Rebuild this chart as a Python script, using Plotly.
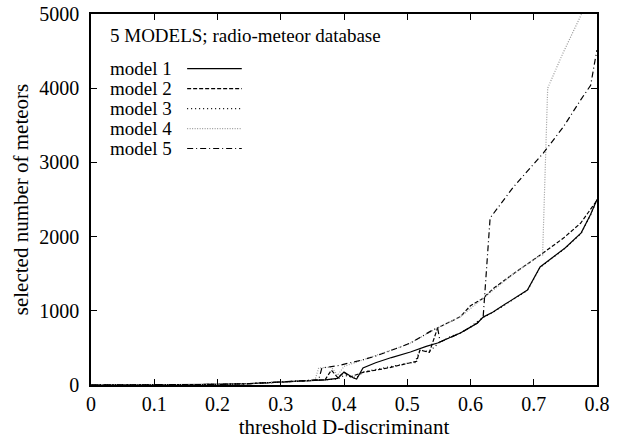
import plotly.graph_objects as go

# ---- data ----
base_x = [0.0, 0.05, 0.1, 0.15, 0.2, 0.25, 0.3, 0.33]
base_y = [0, 1, 2, 4, 8, 18, 40, 55]

m1_x = base_x + [0.35, 0.37, 0.39, 0.40, 0.415, 0.42, 0.43, 0.45, 0.475, 0.505, 0.53, 0.548, 0.565,
                 0.584, 0.60, 0.611, 0.62, 0.635, 0.655, 0.69, 0.71, 0.75, 0.775, 0.79, 0.80]
m1_y = base_y + [60, 70, 90, 175, 94, 80, 230, 300, 370, 445, 520, 566, 630,
                 700, 780, 835, 915, 980, 1090, 1280, 1590, 1850, 2050, 2300, 2500]

m2_x = base_x + [0.36, 0.37, 0.38, 0.39, 0.40, 0.41, 0.43, 0.47, 0.505, 0.515, 0.52, 0.535, 0.548,
                 0.584, 0.60, 0.62, 0.636, 0.668, 0.71, 0.747, 0.774, 0.80]
m2_y = base_y + [60, 70, 200, 100, 170, 110, 170, 230, 300, 320, 470, 440, 770,
                 920, 1070, 1170, 1300, 1500, 1750, 1980, 2180, 2490]

m3_x = base_x + [0.39, 0.40, 0.42, 0.43, 0.47, 0.505, 0.512, 0.52, 0.535, 0.55, 0.57, 0.584,
                 0.60, 0.62, 0.635, 0.655, 0.69, 0.71, 0.75, 0.775, 0.79, 0.80]
m3_y = base_y + [80, 130, 100, 175, 240, 300, 300, 470, 450, 570, 660, 700,
                 785, 912, 975, 1085, 1275, 1585, 1845, 2045, 2295, 2495]

m4_x = base_x + [0.35, 0.355, 0.36, 0.38, 0.39, 0.40, 0.43, 0.45, 0.489, 0.505, 0.548, 0.584,
                 0.62, 0.668, 0.71, 0.714, 0.722, 0.745, 0.78]
m4_y = base_y + [65, 90, 230, 240, 130, 250, 340, 390, 512, 566, 770, 920,
                 1170, 1500, 1750, 1750, 4000, 4450, 5080]

m5_x = base_x + [0.36, 0.365, 0.39, 0.43, 0.45, 0.489, 0.505, 0.54, 0.548, 0.552, 0.584, 0.611,
                 0.62, 0.631, 0.668, 0.715, 0.747, 0.774, 0.79, 0.797, 0.80]
m5_y = base_y + [70, 230, 260, 340, 390, 512, 566, 740, 770, 580, 700, 835,
                 915, 2250, 2670, 3125, 3480, 3840, 4040, 4380, 4515]

names = ["model 1", "model 2", "model 3", "model 4", "model 5"]
colors = ["black", "black", "black", "#9a9a9a", "black"]
dashes = ["solid", "4px,2px", "1px,3px", "1px,1.5px", "6px,3px,1px,3px"]
xs = [m1_x, m2_x, m3_x, m4_x, m5_x]
ys = [m1_y, m2_y, m3_y, m4_y, m5_y]

x_ticks = [0, 0.1, 0.2, 0.3, 0.4, 0.5, 0.6, 0.7, 0.8]
x_tick_labels = ["0", "0.1", "0.2", "0.3", "0.4", "0.5", "0.6", "0.7", "0.8"]
y_ticks = [0, 1000, 2000, 3000, 4000, 5000]

FONT = "Liberation Serif"
FS_LEG = 19
FS_TICK = 20
FS_TITLE = 21

fig = go.Figure()
for n, x, y, c, d in zip(names, xs, ys, colors, dashes):
    fig.add_trace(go.Scatter(x=x, y=y, mode="lines", name=n,
                             line=dict(color=c, width=1.2, dash=d), showlegend=False))

# manual legend: text on left, sample line on right
fig.add_annotation(xref="paper", yref="paper", x=0.033, y=0.943, xanchor="left", yanchor="middle",
                   text="5 MODELS; radio-meteor database", showarrow=False,
                   font=dict(family=FONT, size=FS_LEG, color="black"))
for i, (n, c, d) in enumerate(zip(names, colors, dashes)):
    yp = 0.853 - i * 0.0539
    fig.add_annotation(xref="paper", yref="paper", x=0.033, y=yp, xanchor="left", yanchor="middle",
                       text=n, showarrow=False, font=dict(family=FONT, size=FS_LEG, color="black"))
    fig.add_shape(type="line", xref="paper", yref="paper", x0=0.19, x1=0.298, y0=yp, y1=yp,
                  line=dict(color=c, width=1.2, dash=d))

axis_common = dict(showline=True, linecolor="black", linewidth=1.6, mirror="ticks",
                   ticks="inside", ticklen=6, tickwidth=1.3, tickcolor="black",
                   showgrid=False, zeroline=False, automargin=False,
                   tickfont=dict(family=FONT, size=FS_TICK, color="black"))

fig.update_xaxes(range=[0, 0.8], tickvals=x_ticks, ticktext=x_tick_labels,
                 title=dict(text="threshold D-discriminant", font=dict(family=FONT, size=FS_TITLE, color="black"),
                            standoff=0),
                 ticklabelstandoff=0, **axis_common)
fig.update_yaxes(range=[0, 5000], tickvals=y_ticks,
                 title=dict(text="selected number of meteors", font=dict(family=FONT, size=FS_TITLE, color="black"),
                            standoff=5),
                 ticklabelstandoff=6, **axis_common)

fig.update_layout(width=618, height=441, margin=dict(l=91, r=21, t=14, b=56, autoexpand=False),
                  plot_bgcolor="white", paper_bgcolor="white",
                  font=dict(family=FONT, size=FS_TICK, color="black"))

fig.write_html("out.html")
